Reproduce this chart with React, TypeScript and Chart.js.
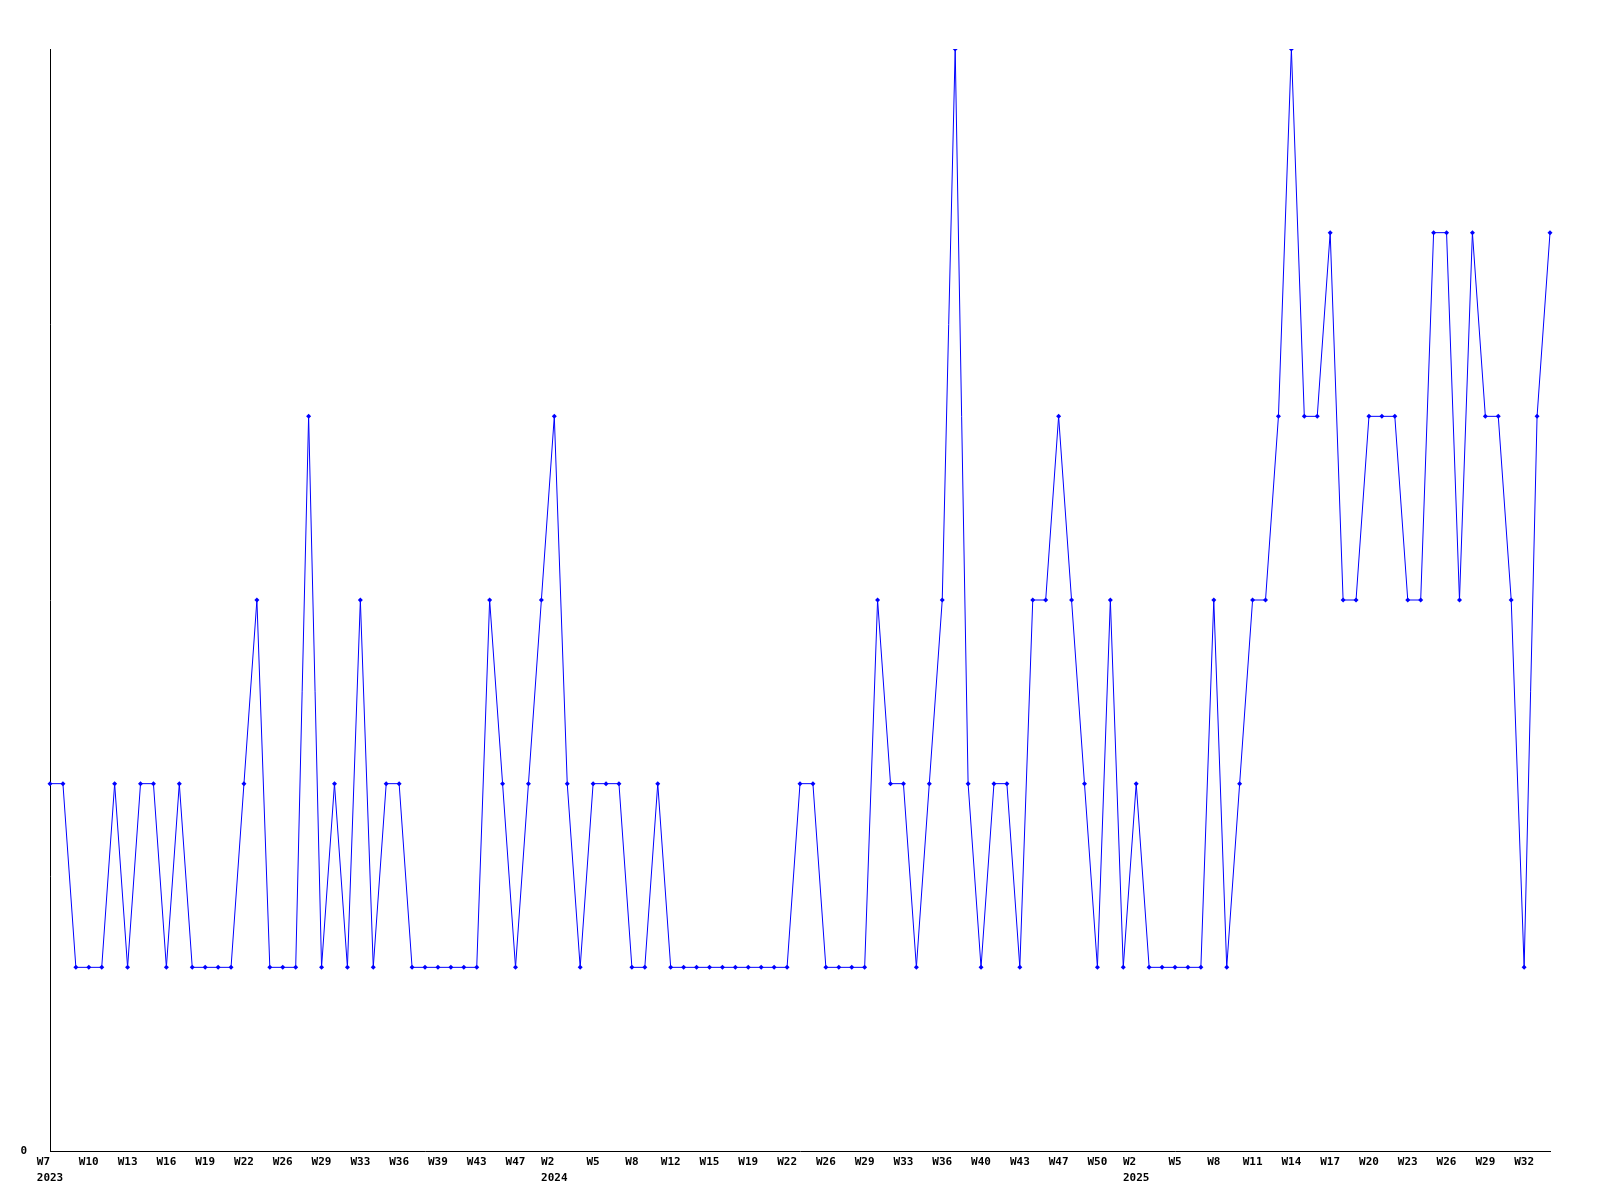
import React, { useEffect, useRef } from "react";
import { Chart, registerables } from "chart.js";

Chart.register(...registerables);

// Tick labels shown every third point (week, optional year on second line)
const tickWeeks = [
  "W7", "W10", "W13", "W16", "W19", "W22", "W26", "W29", "W33", "W36", "W39", "W43", "W47",
  "W2", "W5", "W8", "W12", "W15", "W19", "W22", "W26", "W29", "W33", "W36", "W40", "W43", "W47", "W50",
  "W2", "W5", "W8", "W11", "W14", "W17", "W20", "W23", "W26", "W29", "W32",
];
const tickYears = [
  "2023", "", "", "", "", "", "", "", "", "", "", "", "",
  "2024", "", "", "", "", "", "", "", "", "", "", "", "", "", "",
  "2025", "", "", "", "", "", "", "", "", "", "",
];
const labelEvery = 3;

// Weekly values
const values = [
  2, 2, 1, 1, 1, 2, 1, 2, 2, 1,
  2, 1, 1, 1, 1, 2, 3, 1, 1, 1,
  4, 1, 2, 1, 3, 1, 2, 2, 1, 1,
  1, 1, 1, 1, 3, 2, 1, 2, 3, 4,
  2, 1, 2, 2, 2, 1, 1, 2, 1, 1,
  1, 1, 1, 1, 1, 1, 1, 1, 2, 2,
  1, 1, 1, 1, 3, 2, 2, 1, 2, 3,
  6, 2, 1, 2, 2, 1, 3, 3, 4, 3,
  2, 1, 3, 1, 2, 1, 1, 1, 1, 1,
  3, 1, 2, 3, 3, 4, 6, 4, 4, 5,
  3, 3, 4, 4, 4, 3, 3, 5, 5, 3,
  5, 4, 4, 3, 1, 4, 5,
];

const yMin = 0;
const yMax = 6;

export default function App() {
  const ref = useRef<HTMLCanvasElement | null>(null);

  useEffect(() => {
    if (!ref.current) return;
    const labels = values.map((_, i) => {
      if (i % labelEvery !== 0) return "";
      const k = i / labelEvery;
      if (k >= tickWeeks.length) return "";
      const w = tickWeeks[k];
      const y = tickYears[k];
      return y ? [w.padEnd(y.length, " "), y] : w;
    });
    const font = { family: "'DejaVu Sans Mono', monospace", size: 11, weight: "bold" as const, lineHeight: 1.45 };
    const chart = new Chart(ref.current, {
      type: "line",
      data: {
        labels,
        datasets: [
          {
            data: values,
            borderColor: "#0000ff",
            backgroundColor: "#0000ff",
            borderWidth: 1,
            pointStyle: "rectRot",
            pointRadius: 2.5,
            pointBorderWidth: 0,
            pointBackgroundColor: "#0000ff",
            tension: 0,
            fill: false,
          },
        ],
      },
      options: {
        responsive: false,
        animation: false,
        devicePixelRatio: 1,
        layout: { padding: { top: 49, right: 50, left: 0, bottom: 0 } },
        plugins: { legend: { display: false }, tooltip: { enabled: false } },
        scales: {
          x: {
            offset: false,
            grid: { display: false, drawTicks: false },
            border: { display: true, color: "#000", width: 1 },
            ticks: {
              autoSkip: false,
              maxRotation: 0,
              minRotation: 0,
              padding: 3,
              color: "#000",
              font,
            },
            afterFit: (s: any) => {
              s.height = 49;
            },
          },
          y: {
            min: yMin,
            max: yMax,
            grid: { display: false, drawTicks: false },
            border: { display: true, color: "#000", width: 1 },
            ticks: {
              stepSize: 1,
              padding: 23,
              color: "#000",
              font,
              callback: (v: any) => (Number(v) === 0 ? "0" : ""),
            },
            afterFit: (s: any) => {
              s.width = 50;
            },
          },
        },
      },
    });
    return () => chart.destroy();
  }, []);

  return (
    <div style={{ position: "fixed", left: 0, top: 0, width: 1600, height: 1200, background: "#fff" }}>
      <canvas ref={ref} width={1600} height={1200} style={{ width: 1600, height: 1200, display: "block" }} />
    </div>
  );
}
